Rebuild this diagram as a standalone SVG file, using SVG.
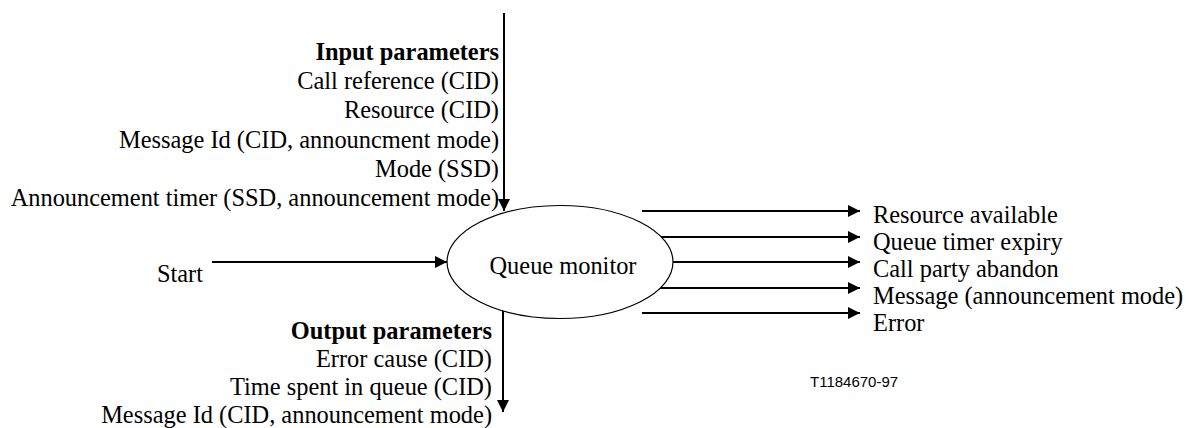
<svg xmlns="http://www.w3.org/2000/svg" width="1189" height="428" viewBox="0 0 1189 428">
  <defs>
    <marker id="arr" markerUnits="userSpaceOnUse" markerWidth="12" markerHeight="12" refX="12" refY="6" orient="auto">
      <path d="M0,0 L12,6 L0,12 z" fill="#000"/>
    </marker>
    <style>
      .t { font-family: 'Liberation Serif', 'Times New Roman', Times, serif; font-size: 24.4px; fill: #000; }
      .b { font-weight: bold; }
      .e { text-anchor: end; }
      .ln { stroke: #000; stroke-width: 2; fill: none; marker-end: url(#arr); }
      .id { font-family: 'Liberation Sans', Arial, sans-serif; font-size: 15px; fill: #000; }
    </style>
  </defs>
  <rect width="1189" height="428" fill="#fff"/>

  <g id="connectors">
    <line class="ln" x1="504" y1="13" x2="504" y2="211"/>
    <line class="ln" x1="503" y1="311" x2="503" y2="412"/>
    <line class="ln" x1="212" y1="262" x2="447" y2="262"/>
    <line class="ln" x1="642" y1="211" x2="860" y2="211"/>
    <line class="ln" x1="661" y1="237" x2="860" y2="237"/>
    <line class="ln" x1="673" y1="262" x2="860" y2="262"/>
    <line class="ln" x1="658" y1="288" x2="860" y2="288"/>
    <line class="ln" x1="642" y1="313" x2="860" y2="313"/>
  </g>

  <g id="queue-monitor">
    <ellipse cx="560" cy="262" rx="113" ry="56.5" fill="#fff" stroke="#000" stroke-width="1.2"/>
    <text class="t" x="563" y="274" text-anchor="middle">Queue monitor</text>
  </g>

  <g id="input-parameters">
    <text class="t b e" x="499" y="60">Input parameters</text>
    <text class="t e" x="499" y="89">Call reference (CID)</text>
    <text class="t e" x="499" y="118">Resource (CID)</text>
    <text class="t e" x="499" y="148">Message Id (CID, announcment mode)</text>
    <text class="t e" x="499" y="177">Mode (SSD)</text>
    <text class="t e" x="499" y="206">Announcement timer (SSD, announcement mode)</text>
  </g>

  <g id="start">
    <text class="t e" x="203" y="282">Start</text>
  </g>

  <g id="output-parameters">
    <text class="t b e" x="492" y="339">Output parameters</text>
    <text class="t e" x="492" y="367">Error cause (CID)</text>
    <text class="t e" x="492" y="395">Time spent in queue (CID)</text>
    <text class="t e" x="492" y="423">Message Id (CID, announcement mode)</text>
  </g>

  <g id="results">
    <text class="t" x="873" y="223">Resource available</text>
    <text class="t" x="873" y="250">Queue timer expiry</text>
    <text class="t" x="873" y="277">Call party abandon</text>
    <text class="t" x="873" y="304">Message (announcement mode)</text>
    <text class="t" x="873" y="331">Error</text>
  </g>

  <g id="figure-id">
    <text class="id" x="810" y="387">T1184670-97</text>
  </g>
</svg>
